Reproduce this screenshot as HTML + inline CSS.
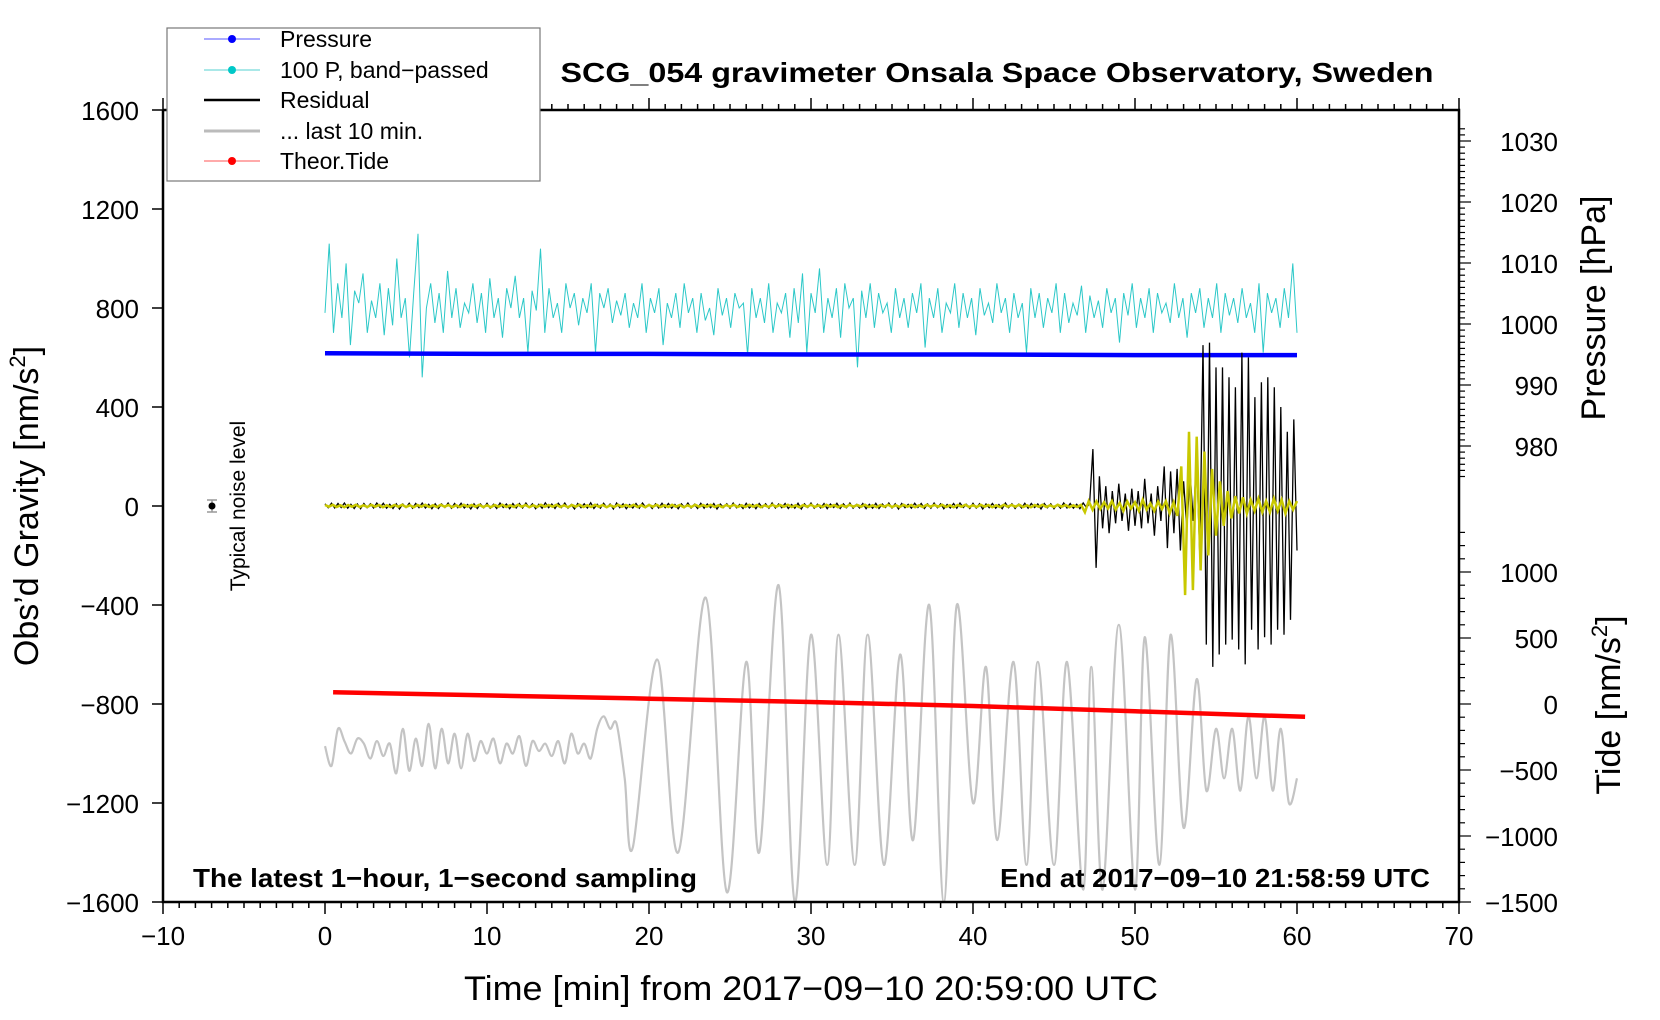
<!DOCTYPE html>
<html><head><meta charset="utf-8"><style>
html,body{margin:0;padding:0;background:#fff;}
svg{display:block;font-family:"Liberation Sans",sans-serif;}
</style></head><body>
<svg id="chart" width="1660" height="1020" viewBox="0 0 1660 1020" xmlns="http://www.w3.org/2000/svg">
<g id="grid"></g>
<g id="series"></g>
<g id="axes"></g>
<text x="997" y="82" text-anchor="middle" font-size="28" font-weight="bold" textLength="873" lengthAdjust="spacingAndGlyphs">SCG_054 gravimeter Onsala Space Observatory, Sweden</text>
<text x="193" y="887" font-size="26" font-weight="bold" textLength="504" lengthAdjust="spacingAndGlyphs">The latest 1−hour, 1−second sampling</text>
<text x="1430" y="887" text-anchor="end" font-size="26" font-weight="bold" textLength="430" lengthAdjust="spacingAndGlyphs">End at 2017−09−10 21:58:59 UTC</text>
<text x="811" y="1000" text-anchor="middle" font-size="34" textLength="694" lengthAdjust="spacingAndGlyphs">Time [min] from 2017−09−10 20:59:00 UTC</text>
<text transform="translate(38,506) rotate(-90)" text-anchor="middle" font-size="34">Obs’d Gravity [nm/s<tspan font-size="22" dy="-13">2</tspan><tspan dy="13">]</tspan></text>
<text transform="translate(1605,308) rotate(-90)" text-anchor="middle" font-size="34">Pressure [hPa]</text>
<text transform="translate(1620,705) rotate(-90)" text-anchor="middle" font-size="34">Tide [nm/s<tspan font-size="22" dy="-13">2</tspan><tspan dy="13">]</tspan></text>
<text transform="translate(245,506) rotate(-90)" text-anchor="middle" font-size="21">Typical noise level</text>
<g>
<line x1="212" y1="500" x2="212" y2="512" stroke="#999" stroke-width="1.5"/>
<line x1="207" y1="500" x2="217" y2="500" stroke="#999" stroke-width="1.5"/>
<line x1="207" y1="512" x2="217" y2="512" stroke="#999" stroke-width="1.5"/>
<circle cx="212" cy="506" r="3.5" fill="#000"/>
</g>
<g>
<rect x="167" y="28" width="373" height="153" fill="#fff" stroke="#777" stroke-width="1.2"/>
<g><line x1="204" y1="39" x2="260" y2="39" stroke="#5555ff" stroke-width="1"/><circle cx="232" cy="39" r="4" fill="#0000ff"/><text x="280" y="47" font-size="23">Pressure</text></g>
<g><line x1="204" y1="70" x2="260" y2="70" stroke="#55d0d0" stroke-width="1"/><circle cx="232" cy="70" r="4" fill="#00c8c8"/><text x="280" y="78" font-size="23">100 P, band−passed</text></g>
<g><line x1="204" y1="100" x2="260" y2="100" stroke="#000" stroke-width="2.5"/><text x="280" y="108" font-size="23">Residual</text></g>
<g><line x1="204" y1="131" x2="260" y2="131" stroke="#bbb" stroke-width="3"/><text x="280" y="139" font-size="23">... last 10 min.</text></g>
<g><line x1="204" y1="161" x2="260" y2="161" stroke="#ff5555" stroke-width="1"/><circle cx="232" cy="161" r="4" fill="#ff0000"/><text x="280" y="169" font-size="23">Theor.Tide</text></g>
</g>
</svg>
<script>
// ---- data ----
const xTicks = [-10,0,10,20,30,40,50,60,70];
const gravityTicks = [1600,1200,800,400,0,-400,-800,-1200,-1600];
const pressureTicks = [1030,1020,1010,1000,990,980];
const tideTicks = [1000,500,0,-500,-1000,-1500];
const pressureTimes = [0,10,20,30,40,50,60];
const pressureValues = [995.2,995.1,995.1,995.0,995.0,994.9,994.9];
const tideTimes = [0.5,10,20,30,40,50,60.5];
const tideValues = [89,65,40,15,-15,-55,-97];
const bandPassed = [780,1060,700,900,760,980,650,870,820,940,700,830,760,900,690,880,730,1000,760,840,600,860,1100,520,800,900,740,860,700,950,760,880,720,820,780,900,740,860,700,920,760,840,680,880,800,930,760,840,620,870,790,1040,700,880,760,820,700,900,800,860,730,840,780,900,620,860,800,880,740,830,770,860,720,820,760,900,700,840,780,880,650,820,760,860,720,900,780,840,700,860,750,800,690,880,770,840,720,860,800,820,610,880,760,840,740,900,700,820,780,860,680,880,740,940,620,860,780,960,700,840,760,880,680,900,800,840,560,870,760,900,720,860,780,820,700,880,760,840,720,860,780,900,640,840,760,880,700,820,780,900,720,860,760,840,690,880,770,820,740,900,780,840,700,860,760,820,620,880,760,860,720,840,780,900,700,860,740,820,770,890,700,850,760,830,720,880,780,840,660,860,770,900,720,840,760,880,700,860,780,820,740,900,760,840,680,860,780,880,720,840,760,900,700,860,770,840,740,880,760,820,700,900,620,860,780,840,720,880,760,980,700];
const residual = [
9,-7,11,-8,10,-6,12,-9,7,-10, 8,-11,10,-7,9,-8,12,-6,11,-9, 7,-10,9,-12,8,-6,11,-9,10,-7,
12,-8,7,-11,9,-10,8,-6,12,-9, 10,-7,11,-8,6,-12,9,-10,8,-7, 11,-9,7,-10,12,-6,8,-11,10,-8,
10,-8,12,-6,9,-11,7,-9,13,-7, 8,-10,11,-6,12,-9,6,-12,10,-7, 9,-8,13,-10,7,-9,11,-6,8,-12,
12,-7,9,-11,6,-8,10,-9,12,-6, 7,-10,9,-8,11,-7,10,-9,6,-11, 9,-6,12,-8,7,-10,11,-9,8,-7,
10,-12,8,-6,9,-9,12,-7,6,-10, 11,-8,7,-11,10,-6,9,-9,12,-8, 8,-7,10,-10,6,-9,11,-12,9,-6,
12,-9,7,-8,10,-11,8,-6,11,-10, 9,-7,12,-9,6,-8,10,-11,7,-9, 11,-10,8,-6,12,-8,9,-12,10,-7,
7,-9,11,-6,10,-10,8,-9,12,-7, 9,-11,6,-8,10,-9,12,-6,7,-10, 11,-8,9,-12,8,-7,10,-9,6,-11,
12,-7,9,-10,7,-8,11,-9,10,-6, 8,-12,10,-7,9,-11,6,-9,12,-8, 10,-9,7,-11,12,-6,9,230,-250,120,
-90,80,-110,60,-70,90,-60,50,-100,70, -80,60,-90,110,-70,50,-120,80,-60,160, -170,140,-110,150,-180,100,-90,130,-60,200,
-200,650,-560,660,-650,560,-600,560,-560,520, -540,480,-580,620,-640,600,-500,440,-580,500, -530,520,-560,480,-500,400,-520,300,-460,350,-180];
const bandPassedResidual = [
4,-3,5,-4,3,-5,4,-3,5,-4, 3,-4,5,-3,4,-5,3,-4,
4,-3,5,-4,3,-5,4,-3,5,-4, 3,-4,5,-3,4,-5,3,-4,5,-3, 4,-3,5,-4,3,-5,4,-3,5,-4, 3,-4,5,-3,4,-5,3,-4,5,-3,
4,-3,5,-4,3,-5,4,-3,5,-4, 3,-4,5,-3,4,-5,3,-4,5,-3, 4,-3,5,-4,3,-5,4,-3,5,-4, 3,-4,5,-3,4,-5,3,-4,5,-3,
4,-3,5,-4,3,-5,4,-3,5,-4, 3,-4,5,-3,4,-5,3,-4,5,-3, 4,-3,5,-4,3,-5,4,-3,5,-4, 3,-4,5,-3,4,-5,3,-4,5,-3,
4,-3,5,-4,3,-5,4,-3,5,-4, 3,-4,5,-3,4,-5,3,-4,5,-3, 4,-3,5,-4,3,-5,4,-3,5,-4, 3,-4,5,-3,4,-5,3,-4,5,-3,
4,-3,5,-4,3,-5,4,-3,5,-4, 3,-4,5,-3,4,-5,3,-4,5,-25,20,-15,18,-12,15,-10,
20,-15,12,-20,18,-10,15,-20,25,-15, 10,-20,18,-12,20,-30,15,-40,160,-360, 300,-340,280,-260,220,-200,150,-120,100,-80,
60,-50,40,-30,35,-30,25,-20,30,-25, 20,-25,30,-20,25,-30,20,-15,20];
const grayTimes = [0,0.4,0.8,1.2,1.6,2,2.4,2.8,3.2,3.6,4,4.4,4.8,5.2,5.6,6,6.4,6.8,7.2,7.6,8,8.4,8.8,9.2,9.6,10,10.4,10.8,11.2,11.6,12,12.4,12.8,13.2,13.6,14,14.4,14.8,15.2,15.6,16,16.4,16.8,17.2,17.6,18,18.5,19,20.5,21.8,23.5,24.8,26,26.8,28,29,30,31,31.7,32.7,33.5,34.5,35.5,36.3,37.3,38.2,39,40,40.8,41.5,42.5,43.3,44,45,45.8,46.8,47.3,48,49,50,50.6,51.5,52.2,53,53.8,54.4,55,55.5,56,56.5,57,57.5,58,58.5,59,59.5,60];
const grayValues = [-970,-1050,-900,-950,-1000,-940,-960,-1020,-950,-1010,-960,-1080,-900,-1070,-940,-1050,-880,-1060,-900,-1040,-920,-1060,-920,-1030,-950,-1000,-940,-1040,-960,-1000,-930,-1050,-950,-990,-960,-1010,-950,-1040,-920,-1000,-960,-1020,-900,-850,-900,-880,-1100,-1380,-620,-1400,-370,-1560,-630,-1400,-320,-1600,-520,-1450,-520,-1450,-520,-1450,-600,-1350,-400,-1600,-400,-1200,-650,-1350,-630,-1450,-630,-1450,-630,-1550,-650,-1550,-480,-1550,-530,-1450,-520,-1300,-700,-1150,-900,-1100,-900,-1150,-850,-1100,-850,-1150,-900,-1200,-1100];

// ---- scales ----
const X = t => 325 + t * 16.2;
const Y = g => 506 - g * 0.2475;
const YP = p => 324 - (p - 1000) * 6.1;
const YT = v => 704 - v * 0.132;
const NS = 'http://www.w3.org/2000/svg';
const series = document.getElementById('series');
const axes = document.getElementById('axes');
function mk(tag, attrs, parent){ const e=document.createElementNS(NS,tag); for(const k in attrs) e.setAttribute(k,attrs[k]); parent.appendChild(e); return e; }
const tIdx = (i,n) => i*60/(n-1);

function smoothPath(pts){
  let d = 'M'+pts[0][0].toFixed(1)+','+pts[0][1].toFixed(1);
  for(let i=0;i<pts.length-1;i++){
    const p0=pts[Math.max(0,i-1)], p1=pts[i], p2=pts[i+1], p3=pts[Math.min(pts.length-1,i+2)];
    const c1=[p1[0]+(p2[0]-p0[0])/6, p1[1]+(p2[1]-p0[1])/6];
    const c2=[p2[0]-(p3[0]-p1[0])/6, p2[1]-(p3[1]-p1[1])/6];
    d+=' C'+c1[0].toFixed(1)+','+c1[1].toFixed(1)+' '+c2[0].toFixed(1)+','+c2[1].toFixed(1)+' '+p2[0].toFixed(1)+','+p2[1].toFixed(1);
  }
  return d;
}
const poly = pts => pts.map(p=>p[0].toFixed(1)+','+p[1].toFixed(1)).join(' ');

const gray = mk('path',{d:smoothPath(grayTimes.map((t,i)=>[X(t),Y(grayValues[i])])),fill:'none',stroke:'#c4c4c4','stroke-width':2.2},series);



const cy = mk('polyline',{points:poly(bandPassed.map((v,i)=>[X(tIdx(i,bandPassed.length)),Y(v)])),fill:'none',stroke:'#2cc8c8','stroke-width':1},series);



const pl = mk('polyline',{points:poly(pressureTimes.map((t,i)=>[X(t),YP(pressureValues[i])])),fill:'none',stroke:'#0000ff','stroke-width':4.5},series);



const rl = mk('polyline',{points:poly(residual.map((v,i)=>[X(tIdx(i,residual.length)),Y(v)])),fill:'none',stroke:'#000','stroke-width':1.3},series);



const yl = mk('polyline',{points:poly(bandPassedResidual.map((v,i)=>[X(tIdx(i,bandPassedResidual.length)),Y(v)])),fill:'none',stroke:'#c8c800','stroke-width':2.5},series);



const tl = mk('polyline',{points:poly(tideTimes.map((t,i)=>[X(t),YT(tideValues[i])])),fill:'none',stroke:'#ff0000','stroke-width':4.5},series);



// ---- axes ----
const L=163,R=1459,T=110,B=902;
const frame = mk('path',{d:`M${L},${T} L${L},${B} L${R},${B} L${R},${T} L${L},${T}`,fill:'none',stroke:'#000','stroke-width':2.5},axes);


for(let m=-10;m<=70;m++){
  const x=X(m), major=(m%10===0);
  mk('line',{x1:x,y1:B,x2:x,y2:B+(major?12:6),stroke:'#000','stroke-width':1.5},axes);
  mk('line',{x1:x,y1:T,x2:x,y2:T-(major?12:6),stroke:'#000','stroke-width':1.5},axes);
}
xTicks.forEach(v=>{
  const t=mk('text',{x:X(v),y:945,'text-anchor':'middle','font-size':26},axes);
  t.textContent=String(v).replace('-','−');
  
  
});
gravityTicks.forEach(v=>{
  mk('line',{x1:L-11,y1:Y(v),x2:L,y2:Y(v),stroke:'#000','stroke-width':1.5},axes);
  const t=mk('text',{x:139,y:Y(v)+10,'text-anchor':'end','font-size':26},axes);
  t.textContent=String(v).replace('-','−');
  
  
});
for(let p=1032;p>=975;p--){
  const y=YP(p); if(y<T) continue;
  mk('line',{x1:R,y1:y,x2:R+(p%10===0?12:6),y2:y,stroke:'#000','stroke-width':1.2},axes);
}
pressureTicks.forEach(v=>{
  const t=mk('text',{x:1558,y:YP(v)+10,'text-anchor':'end','font-size':26},axes);
  t.textContent=String(v);
  
  
});
for(let v=1300;v>=-1500;v-=100){
  mk('line',{x1:R,y1:YT(v),x2:R+(v%500===0?12:6),y2:YT(v),stroke:'#000','stroke-width':1.2},axes);
}
tideTicks.forEach(v=>{
  const t=mk('text',{x:1558,y:YT(v)+10,'text-anchor':'end','font-size':26},axes);
  t.textContent=String(v).replace('-','−');
  
  
});
</script>
</body></html>
